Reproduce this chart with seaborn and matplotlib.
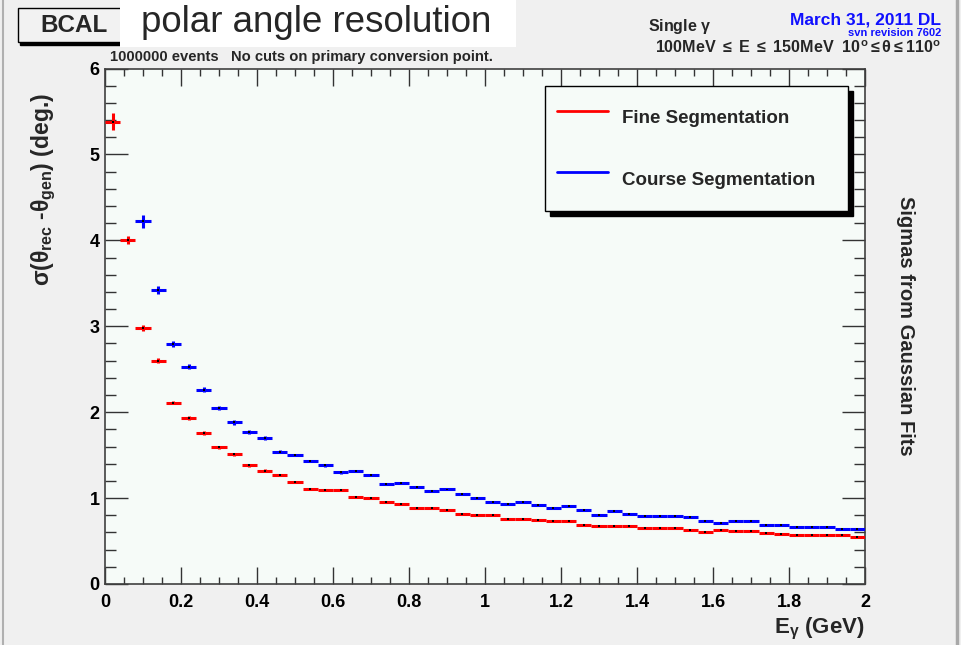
import pandas as pd
import matplotlib.pyplot as plt
import numpy as np
import seaborn as sns
from matplotlib.lines import Line2D
from matplotlib.patches import Rectangle
from matplotlib.ticker import MultipleLocator, FuncFormatter

# Bin centres (0.04 GeV bins from 0 to 2 GeV)
fine_E = [0.02, 0.06, 0.10, 0.14, 0.18, 0.22, 0.26, 0.30, 0.34, 0.38,
          0.42, 0.46, 0.50, 0.54, 0.58, 0.62, 0.66, 0.70, 0.74, 0.78,
          0.82, 0.86, 0.90, 0.94, 0.98, 1.02, 1.06, 1.10, 1.14, 1.18,
          1.22, 1.26, 1.30, 1.34, 1.38, 1.42, 1.46, 1.50, 1.54, 1.58,
          1.62, 1.66, 1.70, 1.74, 1.78, 1.82, 1.86, 1.90, 1.94, 1.98]
fine_sigma = [5.38, 4.00, 2.98, 2.60, 2.11, 1.93, 1.76, 1.59, 1.51, 1.38,
              1.32, 1.27, 1.19, 1.11, 1.09, 1.09, 1.01, 1.00, 0.95, 0.93,
              0.88, 0.88, 0.86, 0.82, 0.80, 0.80, 0.76, 0.76, 0.74, 0.73,
              0.73, 0.69, 0.68, 0.68, 0.68, 0.65, 0.65, 0.65, 0.63, 0.61,
              0.63, 0.615, 0.615, 0.595, 0.58, 0.565, 0.565, 0.565, 0.565, 0.55]
fine_err = [0.10, 0.045, 0.03, 0.03, 0.02, 0.02, 0.02, 0.02, 0.015, 0.015,
            0.015, 0.015, 0.012, 0.012, 0.012, 0.012, 0.01, 0.01, 0.01, 0.01,
            0.01, 0.01, 0.01, 0.01, 0.01, 0.01, 0.01, 0.01, 0.01, 0.01,
            0.01, 0.01, 0.01, 0.01, 0.01, 0.01, 0.01, 0.01, 0.01, 0.01,
            0.01, 0.01, 0.01, 0.01, 0.01, 0.01, 0.01, 0.01, 0.01, 0.01]

course_E = fine_E[2:]
course_sigma = [4.22, 3.42, 2.79, 2.53, 2.26, 2.05, 1.88, 1.77, 1.70, 1.54,
                1.50, 1.43, 1.38, 1.30, 1.32, 1.27, 1.16, 1.175, 1.13, 1.08,
                1.10, 1.05, 1.00, 0.95, 0.935, 0.955, 0.92, 0.89, 0.905, 0.86,
                0.805, 0.845, 0.82, 0.79, 0.79, 0.79, 0.775, 0.73, 0.71, 0.73,
                0.73, 0.69, 0.69, 0.66, 0.66, 0.66, 0.645, 0.645]
course_err = [0.08, 0.05, 0.035, 0.03, 0.03, 0.025, 0.025, 0.02, 0.02, 0.02,
              0.015, 0.015, 0.015, 0.015, 0.012, 0.012, 0.012, 0.012, 0.01, 0.01,
              0.01, 0.01, 0.01, 0.01, 0.01, 0.01, 0.01, 0.01, 0.01, 0.01,
              0.01, 0.01, 0.01, 0.01, 0.01, 0.01, 0.01, 0.01, 0.01, 0.01,
              0.01, 0.01, 0.01, 0.01, 0.01, 0.01, 0.01, 0.01]

bin_half = 0.02

df = pd.concat([
    pd.DataFrame({'E': fine_E, 'sigma': fine_sigma, 'err': fine_err, 'seg': 'Fine Segmentation'}),
    pd.DataFrame({'E': course_E, 'sigma': course_sigma, 'err': course_err, 'seg': 'Course Segmentation'}),
])
palette = {'Fine Segmentation': '#ff0000', 'Course Segmentation': '#0000ff'}

sns.set_theme(style="ticks", rc={
    "axes.edgecolor": "#404040",
    "axes.linewidth": 1.2,
    "axes.facecolor": "#f6fbf8",
    "figure.facecolor": "#f0f0f0",
    "xtick.color": "#333333",
    "ytick.color": "#333333",
    "xtick.labelcolor": "black",
    "ytick.labelcolor": "black",
})
plt.rcParams['font.family'] = ['Liberation Sans', 'DejaVu Sans']
plt.rcParams['font.weight'] = 'bold'
plt.rcParams['mathtext.fontset'] = 'custom'
plt.rcParams['mathtext.rm'] = 'Liberation Sans:bold'
plt.rcParams['mathtext.it'] = 'Liberation Sans:bold'
plt.rcParams['mathtext.bf'] = 'Liberation Sans:bold'

fig = plt.figure(figsize=(9.61, 6.45), dpi=100)
ax = fig.add_axes([105 / 961, 61 / 645, 760 / 961, 515.5 / 645])

# Error bars (bin width horizontally)
for seg, grp in df.groupby('seg', sort=False):
    ax.errorbar(grp['E'], grp['sigma'], xerr=bin_half, yerr=grp['err'],
                fmt='none', ecolor=palette[seg], elinewidth=2.2, capsize=0, zorder=3)

# Bin centre markers
sns.scatterplot(data=df, x='E', y='sigma', color='black', s=2, marker='s',
                edgecolor='none', legend=False, zorder=4, ax=ax)

ax.set_xlim(0, 2)
ax.set_ylim(0, 6)
ax.xaxis.set_major_locator(MultipleLocator(0.2))
ax.xaxis.set_minor_locator(MultipleLocator(0.05))
ax.yaxis.set_major_locator(MultipleLocator(1))
ax.yaxis.set_minor_locator(MultipleLocator(0.2))
ax.xaxis.set_major_formatter(FuncFormatter(lambda v, p: f"{v:g}"))

ax.tick_params(which='both', direction='in', top=True, right=True, width=1)
ax.tick_params(axis='x', which='major', length=12, pad=7, labelsize=13)
ax.tick_params(axis='x', which='minor', length=5)
ax.tick_params(axis='y', which='major', length=16.5, pad=4, labelsize=13)
ax.tick_params(axis='y', which='minor', length=8)
for lab in ax.get_xticklabels() + ax.get_yticklabels():
    lab.set_fontweight('bold')

# Axis titles (ROOT style, at the axis end)
ax.set_xlabel(r"E$_{\gamma}$ (GeV)", fontsize=16, fontweight='bold', loc='right')
ax.xaxis.set_label_coords(1.0, -0.062)
ax.set_ylabel(r"$\sigma(\theta_{rec}$ -$\theta_{gen})$ (deg.)", fontsize=16.5,
              fontweight='bold', loc='top')
ax.yaxis.set_label_coords(-0.062, 0.952)

# Legend
handles = [Line2D([], [], color=palette['Fine Segmentation'], lw=2, label='Fine Segmentation'),
           Line2D([], [], color=palette['Course Segmentation'], lw=2, label='Course Segmentation')]
leg = ax.legend(handles=handles, loc='upper left',
                bbox_to_anchor=(0.579, 0.7255, 0.399, 0.2405), mode='expand',
                borderaxespad=0, prop={'size': 13.5, 'weight': 'bold'},
                frameon=True, fancybox=False, edgecolor='black', facecolor='#f6fbf8',
                framealpha=1,
                shadow={'ox': 3.5, 'oy': -3.5, 'facecolor': 'black', 'edgecolor': 'black', 'alpha': 1},
                handlelength=2.72, handleheight=2.85, handletextpad=0.75,
                labelspacing=1.2, borderpad=0.64)
leg.get_frame().set_linewidth(1.0)

# Canvas decorations
fig.add_artist(Line2D([3 / 961, 3 / 961], [0, 1], color='#b0b0b0', lw=1.5))
fig.add_artist(Line2D([957 / 961, 957 / 961], [0, 1], color='#a8a8a8', lw=2.5))

fig.add_artist(Rectangle((20 / 961, 1 - 45 / 645), 110 / 961, 35 / 645, facecolor='black',
                         edgecolor='black', lw=1))
fig.add_artist(Rectangle((18 / 961, 1 - 42 / 645), 110 / 961, 34 / 645, facecolor='#f2f2f2',
                         edgecolor='black', lw=1))
fig.text(74 / 961, 1 - 25 / 645, "BCAL", fontsize=17.5, fontweight='bold',
         ha='center', va='center')
fig.add_artist(Rectangle((120 / 961, 1 - 47 / 645), 396 / 961, 47 / 645, facecolor='white',
                         edgecolor='none'))
fig.text(141 / 961, 1 - 23 / 645, "polar angle resolution", fontsize=26.4,
         fontweight='normal', ha='left', va='center')

fig.text(110 / 961, 1 - 57 / 645, "1000000 events   No cuts on primary conversion point.",
         fontsize=10.6, fontweight='bold', ha='left', va='center')
fig.text(680 / 961, 1 - 27 / 645, r"Single $\gamma$", fontsize=11.5, fontweight='bold',
         ha='center', va='center')
fig.text(941 / 961, 1 - 20 / 645, "March 31, 2011 DL", fontsize=12.5, fontweight='bold',
         color='#1010ff', ha='right', va='center')
fig.text(941 / 961, 1 - 33.5 / 645, "svn revision 7602", fontsize=8, fontweight='bold',
         color='#1010ff', ha='right', va='center')
fig.text(941 / 961, 1 - 48 / 645,
         r"100MeV $\leq$ E $\leq$ 150MeV  10$^{\mathrm{o}}$$\leq\theta\leq$110$^{\mathrm{o}}$",
         fontsize=11.6, fontweight='bold', ha='right', va='center')
fig.text(906 / 961, 1 - 326 / 645, "Sigmas from Gaussian Fits", fontsize=14.5,
         fontweight='bold', rotation=-90, ha='center', va='center')

fig.savefig("out.png", dpi=100)
